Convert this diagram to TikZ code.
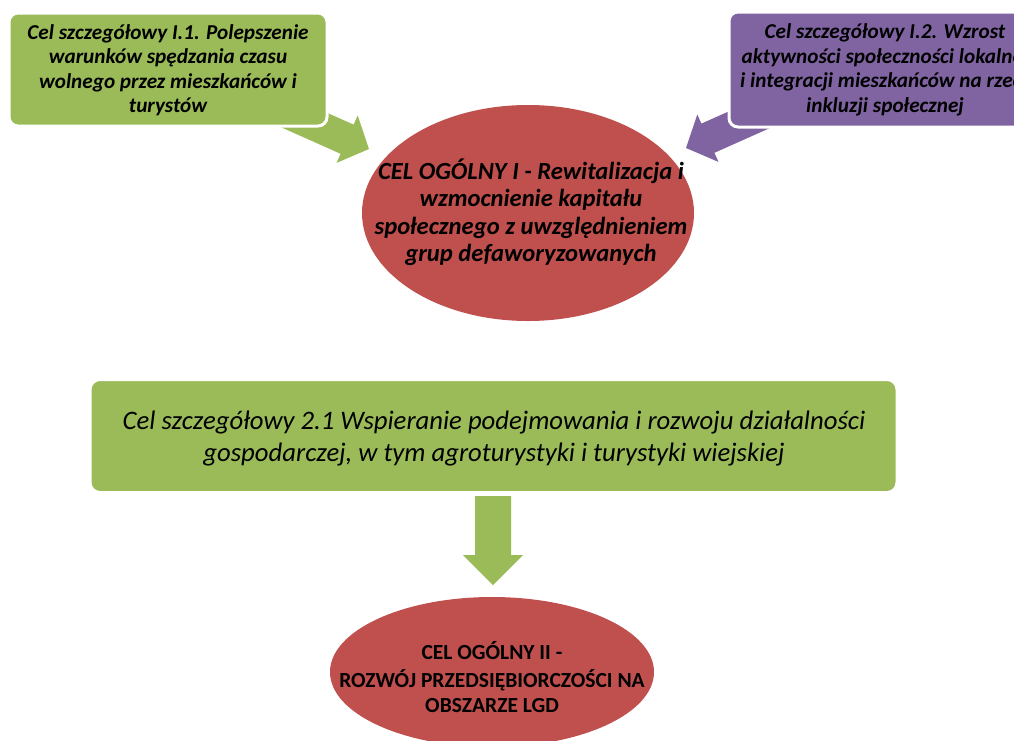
\documentclass[tikz,border=0pt]{standalone}
\usepackage{fontspec}
\setmainfont{Carlito}
\usetikzlibrary{shapes.geometric}
\definecolor{cgreen}{HTML}{9BBB59}
\definecolor{cpurple}{HTML}{8064A2}
\definecolor{cred}{HTML}{C0504D}
\tikzset{
  boxg/.style={rectangle, rounded corners=9pt, fill=cgreen, draw=white, line width=3pt, inner sep=0pt},
  boxp/.style={rectangle, rounded corners=9pt, fill=cpurple, draw=white, line width=3pt, inner sep=0pt},
  redell/.style={ellipse, fill=cred, draw=none, inner sep=0pt},
  txt/.style={align=center, text=black, inner sep=0pt},
}
\begin{document}
\begin{tikzpicture}[x=1pt,y=-1pt]
\useasboundingbox (0,0) rectangle (1014,740);
\clip (0,0) rectangle (1014,740);
% arrows (drawn first, under the boxes)
\fill[cgreen] (369,149) -- (357.7,115.5) -- (353.6,124.6) -- (275.1,89.6) -- (262.1,118.8) -- (340.6,153.8) -- (336.5,162.9) -- cycle;
\fill[cpurple] (686,148) -- (697.3,114.5) -- (701.4,123.6) -- (779.9,88.6) -- (792.9,117.8) -- (714.4,152.8) -- (718.5,161.9) -- cycle;
% top boxes
\node[boxg, minimum width=318pt, minimum height=113pt] (s11) at (168,69.5) {};
\node[txt, font=\fontsize{21.2}{24.5}\selectfont\bfseries\itshape] (s11t) at (168,70)
  {Cel szczegółowy I.1. Polepszenie\\warunków spędzania czasu\\wolnego przez mieszkańców i\\turystów};
\node[boxp, minimum width=312pt, minimum height=115pt] (s12) at (885,69.5) {};
\node[txt, font=\fontsize{21.2}{24.5}\selectfont\bfseries\itshape] (s12t) at (885,70)
  {Cel szczegółowy I.2. Wzrost\\aktywności społeczności lokalnej\\i integracji mieszkańców na rzecz\\inkluzji społecznej};
% ellipse I
\node[redell, minimum width=332pt, minimum height=216pt] (g1) at (528,213) {};
\node[txt, font=\fontsize{24.6}{27.5}\selectfont\bfseries\itshape] (g1t) at (531,212)
  {CEL OGÓLNY I - Rewitalizacja i\\wzmocnienie kapitału\\społecznego z uwzględnieniem\\grup defaworyzowanych};
% box 2.1
\node[boxg, rounded corners=10pt, minimum width=807pt, minimum height=113pt] (s21) at (493.5,436) {};
\node[txt, font=\fontsize{26.7}{32}\selectfont\itshape] (s21t) at (494,439)
  {Cel szczegółowy 2.1 Wspieranie podejmowania i rozwoju działalności\\gospodarczej, w tym agroturystyki i turystyki wiejskiej};
% down arrow
\coordinate (dtop) at (493,496);
\coordinate (dtip) at (493,585);
\fill[cgreen] (dtip) -- ++(-30,-30) -- ++(12,0) -- (475,496) -- (511,496) -- (511,555) -- ++(12,0) -- cycle;
% ellipse II
\node[redell, minimum width=324pt, minimum height=150pt] (g2) at (492,672) {};
\node[txt, font=\fontsize{21.5}{24.5}\selectfont\bfseries] (g2t) at (492,677)
  {CEL OGÓLNY II -\\[4pt]ROZWÓJ PRZEDSIĘBIORCZOŚCI NA\\OBSZARZE LGD};
\end{tikzpicture}
\end{document}
